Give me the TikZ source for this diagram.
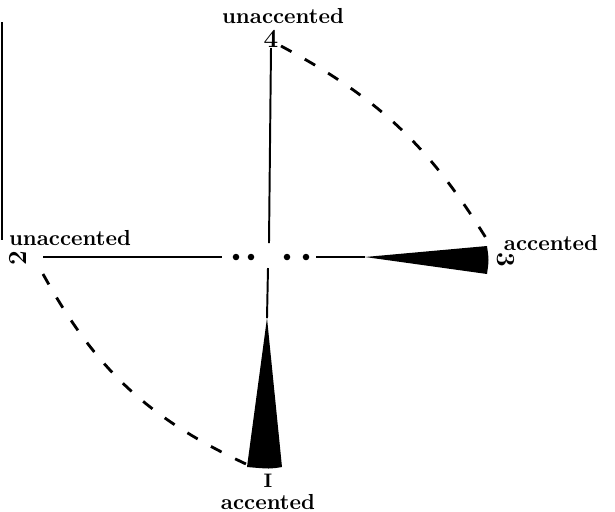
\documentclass[tikz,border=0pt]{standalone}
\usetikzlibrary{positioning,calc}

\begin{document}
\begin{tikzpicture}[x=0.46pt,y=-0.46pt,
  lbl/.style={font=\bfseries,inner sep=0pt},
  num/.style={font=\bfseries\large,inner sep=0pt},
  arm/.style={line width=0.9pt},
  swing/.style={line width=1.3pt,dash pattern=on 5.5pt off 7pt}]
  \useasboundingbox (0,0) rectangle (615,511);
  \draw[line width=1pt] (2,22) -- (2,240);
  % beat labels
  \node[lbl] (u4) at (283,16) {unaccented}; \node[num] (n4) at (271,39) {4};
  \node[lbl] (u2) at (70,238) {unaccented}; \node[num,rotate=90] (n2) at (18,258) {2};
  \node[lbl] (a3) at (551,243) {accented}; \node[num,rotate=-90] (n3) at (506,260) {3};
  \node[num,font=\bfseries\small] (n1) at (268,481) {I}; \node[lbl] (a1) at (268,502) {accented};
  % the cross
  \coordinate (top) at (269,243); \coordinate (bot) at (268,268);
  \coordinate (west) at (43,257); \coordinate (lft) at (222,257); \coordinate (rgt) at (316,257);
  \coordinate (tip1) at (267,318); \coordinate (tip3) at (365,257);
  \draw[arm] (n4.south) -- (top); \draw[arm] (west) -- (lft);
  \draw[arm] (bot) -- (tip1); \draw[arm] (rgt) -- (tip3);
  \foreach \x in {236,251,287,306} \fill (\x,257) circle (1.5pt);
  \fill (tip1) -- (282,467) .. controls (270,469) .. (247,467) -- cycle;
  \fill (tip3) -- (487,246) .. controls (489,260) .. (487,274) -- cycle;
  % swings between the beats
  \coordinate (s4) at (281,46); \coordinate (s3) at (486,238);
  \coordinate (s2) at (43,274); \coordinate (s1) at (246,464);
  \draw[swing] (s4) to[bend left=15] (s3);
  \draw[swing] (s2) to[bend right=18] (s1);
\end{tikzpicture}
\end{document}
